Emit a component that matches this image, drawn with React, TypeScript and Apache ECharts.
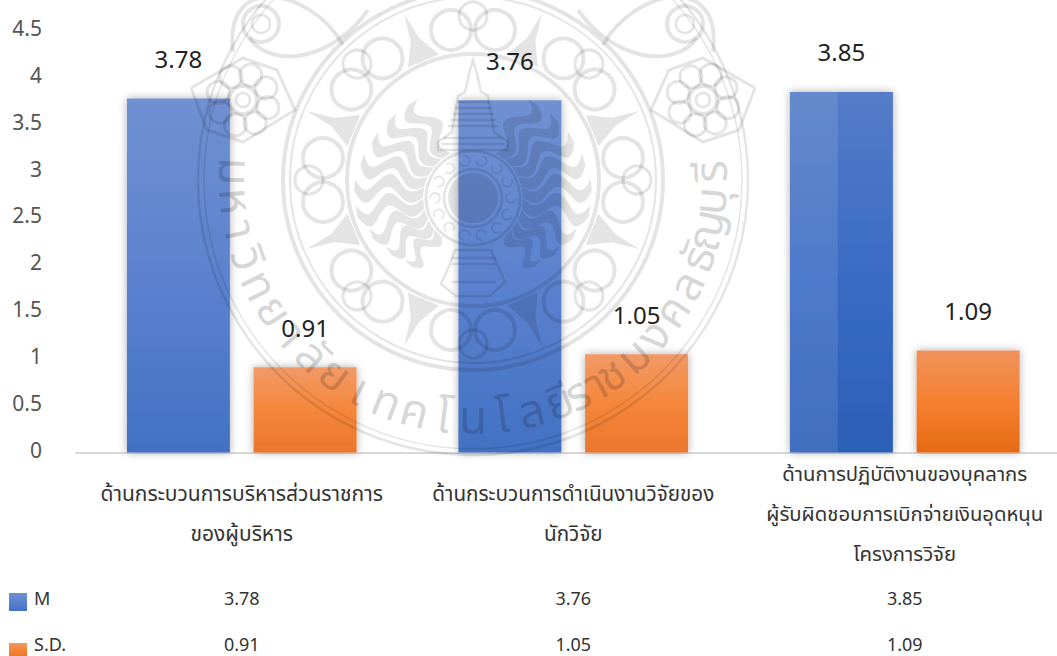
import React, { useEffect, useRef } from "react";
import * as echarts from "echarts";

const categories = [
  "ด้านกระบวนการบริหารส่วนราชการ\nของผู้บริหาร",
  "ด้านกระบวนการดำเนินงานวิจัยของ\nนักวิจัย",
  "ด้านการปฏิบัติงานของบุคลากร\nผู้รับผิดชอบการเบิกจ่ายเงินอุดหนุน\nโครงการวิจัย",
];
const seriesNames = ["M", "S.D."];
const meanValues = [3.78, 3.76, 3.85];
const sdValues = [0.91, 1.05, 1.09];
const sealLetters = [
  "ม", "ห", "า", "วิ", "ท", "ย", "า", "ลั", "ย", "เ", "ท", "ค", "โ", "น", "โ", "ล", "ยี",
  "รา", "ช", "ม", "ง", "ค", "ล", "ธั", "ญ", "บุ", "รี",
];

const UI_FONT = '"Noto Sans", "DejaVu Sans", sans-serif';
const THAI_FONT = '"Noto Sans", "Noto Sans Thai", "DejaVu Sans", sans-serif';

const linear = (stops: [number, string][]) =>
  new echarts.graphic.LinearGradient(0, 0, 0, 1, stops.map(([offset, color]) => ({ offset, color })));

const blueFill = () => linear([[0, "#7090d2"], [0.5, "#5c82cf"], [1, "#4271c3"]]);
const deepBlueFill = () => linear([[0, "#557cc8"], [0.5, "#3a6cc4"], [1, "#2c5fb6"]]);
const orangeFill = () => linear([[0, "#f19a68"], [0.5, "#f5863a"], [1, "#ea772c"]]);
const deepOrangeFill = () => linear([[0, "#f0925c"], [0.5, "#f48030"], [1, "#e66a14"]]);

const SHADE = "rgba(0,0,0,0.105)";
const Z = 40;

// Grey university seal laid over the whole plot
function buildSeal(): any[] {
  const cx = 473;
  const cy = 180;
  const out: any[] = [];
  const line = { fill: "none", stroke: SHADE };
  const ring = (x: number, y: number, r: number, w = 2.5) =>
    out.push({ type: "circle", z: Z, silent: true, shape: { cx: x, cy: y, r }, style: { ...line, lineWidth: w } });
  const pt = (r: number, a: number) => [cx + r * Math.cos(a), cy + r * Math.sin(a)];

  // Outer and middle bands
  ring(cx, cy, 275, 2.5);
  ring(cx, cy, 269, 1.5);
  ring(cx, cy, 190, 4);
  ring(cx, cy, 183, 2);
  ring(cx, cy, 126, 4);

  // Clusters of lobes between the sun disc and the band
  for (let i = 0; i < 8; i++) {
    const a = (i * Math.PI) / 4 - Math.PI / 2;
    const mx = cx + 150 * Math.cos(a);
    const my = cy + 150 * Math.sin(a);
    const px = -Math.sin(a);
    const py = Math.cos(a);
    ring(mx + px * 22, my + py * 22, 20, 4);
    ring(mx - px * 22, my - py * 22, 20, 4);
    ring(cx + 164 * Math.cos(a), cy + 164 * Math.sin(a), 14, 3);
    // Pointed fillers between neighbouring clusters
    const a2 = a + Math.PI / 8;
    out.push({
      type: "polygon", z: Z, silent: true,
      shape: { points: [pt(130, a2 - 0.13), pt(152, a2 - 0.03), pt(180, a2), pt(152, a2 + 0.03), pt(130, a2 + 0.13)] },
      style: { fill: SHADE },
    });
  }

  // Wavy sun rays around the medallion
  const hubY = 198;
  const rays = 28;
  for (let i = 0; i < rays; i++) {
    const a0 = ((i + 0.5) * 2 * Math.PI) / rays;
    const s = Math.sin(a0);
    if (s < -0.9 || s > 0.72) continue;
    const dir = Math.cos(a0) > 0 ? 1 : -1;
    const side: number[][] = [];
    const back: number[][] = [];
    const reach = s > 0 ? 122 - 42 * s : 120 + 8 * s;
    for (let k = 0; k <= 18; k++) {
      const t = k / 18;
      const r = 50 + (reach - 50) * t;
      const wave = 0.1 * Math.sin(t * Math.PI * 3) * dir;
      const half = 0.102 * (1 - t * 0.5);
      side.push([473 + r * Math.cos(a0 + wave - half), hubY + r * Math.sin(a0 + wave - half)]);
      back.unshift([473 + r * Math.cos(a0 + wave + half), hubY + r * Math.sin(a0 + wave + half)]);
    }
    out.push({
      type: "polygon", z: Z, silent: true,
      shape: { points: side.concat(back) },
      style: { fill: SHADE },
    });
  }

  // Medallion with its band of scrolls
  ring(473, hubY, 47, 3);
  ring(473, hubY, 29, 2.5);
  for (let i = 0; i < 14; i++) {
    const a = (i * 2 * Math.PI) / 14;
    out.push({
      type: "arc", z: Z, silent: true,
      shape: { cx: 473 + 38 * Math.cos(a), cy: hubY + 38 * Math.sin(a), r: 5, startAngle: a, endAngle: a + 4.6 },
      style: { ...line, lineWidth: 1.8 },
    });
  }
  out.push({
    type: "circle", z: Z, silent: true,
    shape: { cx: 473, cy: hubY, r: 25 },
    style: { fill: SHADE },
  });

  // Stupa above the medallion and its pedestal below
  const outline = (points: number[][]) =>
    out.push({ type: "polygon", z: Z, silent: true, shape: { points }, style: { ...line, lineWidth: 2.5 } });
  const slat = (x1: number, x2: number, y: number) =>
    out.push({ type: "line", z: Z, silent: true, shape: { x1, y1: y, x2, y2: y }, style: { stroke: SHADE, lineWidth: 2.5 } });
  outline([[473, 60], [469, 74], [465, 92], [458, 96], [452, 132], [438, 142], [438, 150], [508, 150], [508, 142], [494, 132], [488, 96], [481, 92], [477, 74]]);
  [102, 108, 114, 120, 126, 138, 144].forEach((y) => slat(473 - (y - 60) * 0.38, 473 + (y - 60) * 0.38, y));
  outline([[455, 250], [491, 250], [497, 264], [505, 282], [490, 296], [456, 296], [441, 284], [450, 264]]);
  [258, 264, 282].forEach((y) => slat(452, 496, y));

  // Corner flowers and the curling tails at the top
  [243, 703].forEach((fx, idx) => {
    const fy = 100;
    ring(fx, fy, 14, 4);
    ring(fx, fy, 7, 2.5);
    for (let i = 0; i < 8; i++) {
      const a = (i * Math.PI) / 4 + 0.3;
      ring(fx + 26 * Math.cos(a), fy + 26 * Math.sin(a), 11, 3);
    }
    const m = idx === 0 ? 1 : -1;
    const tip = fx + m * 52;
    out.push({
      type: "polyline", z: Z, silent: true,
      shape: { points: [[fx - m * 52, fy - 12], [fx - m * 36, fy + 30], [fx, fy + 42], [tip, fy + 10], [fx + m * 34, fy - 30], [fx, fy - 42], [fx - m * 52, fy - 12]] },
      style: { ...line, lineWidth: 3 },
    });
    out.push({
      type: "bezierCurve", z: Z, silent: true,
      shape: { x1: fx - m * 10, y1: fy - 48, cpx1: fx - m * 20, cpy1: -30, cpx2: fx + m * 70, cpy2: -10, x2: fx + m * 100, y2: fy - 55 },
      style: { ...line, lineWidth: 4 },
    });
    out.push({
      type: "bezierCurve", z: Z, silent: true,
      shape: { x1: fx + m * 6, y1: fy - 62, cpx1: fx + m * 30, cpy1: fy - 30, cpx2: fx + m * 90, cpy2: fy - 40, x2: fx + m * 125, y2: fy - 90 },
      style: { ...line, lineWidth: 4 },
    });
    ring(fx + m * 18, 24, 18, 4);
    ring(fx + m * 18, 24, 9, 2.5);
  });

  // University name running round the lower half
  sealLetters.forEach((ch, i) => {
    const deg = 182 - (i * 184) / (sealLetters.length - 1);
    const th = (deg * Math.PI) / 180;
    out.push({
      type: "text", z: Z, silent: true,
      x: cx + 236 * Math.cos(th),
      y: cy + 236 * Math.sin(th),
      rotation: -(th - Math.PI / 2),
      style: {
        text: ch, fill: "rgba(0,0,0,0.17)", font: `46px ${THAI_FONT}`,
        align: "center", verticalAlign: "middle",
      },
    });
  });
  return out;
}

const tableAxis = (values: number[], offset: number) => ({
  type: "category" as const,
  position: "bottom" as const,
  offset,
  data: values.map((v) => v.toFixed(2)),
  axisLine: { show: false },
  axisTick: { show: false },
  splitLine: { show: false },
  axisLabel: {
    margin: 0,
    fontSize: 18,
    lineHeight: 18,
    color: "#333",
    fontFamily: UI_FONT,
    verticalAlign: "middle" as const,
    interval: 0,
  },
});

// One legend per table row; each shows only its colour mark, the name sits beside it as text
const legendEntry = (name: string, top: number, markHeight: number) => ({
  data: [name],
  left: 9,
  top,
  icon: "rect",
  itemWidth: 18,
  itemHeight: markHeight,
  selectedMode: false,
  padding: 0,
  formatter: () => "",
});

const rowName = (text: string, y: number) => ({
  type: "text",
  x: 34,
  y,
  silent: true,
  style: { text, fill: "#333", font: `18px ${UI_FONT}`, align: "left", verticalAlign: "middle" },
});

// Each category keeps its own text size, wrapped line by line
const categoryStyle = (size: number) => ({ fontSize: size, lineHeight: 40, color: "#333", fontFamily: THAI_FONT });

export default function App() {
  const ref = useRef<HTMLDivElement>(null);

  useEffect(() => {
    const chart = echarts.init(ref.current!, undefined, { renderer: "svg", width: 1057, height: 656 });
    const valueLabel = {
      show: true,
      position: "top" as const,
      distance: 28,
      fontSize: 24,
      color: "#222",
      fontFamily: UI_FONT,
      formatter: (p: any) => Number(p.value).toFixed(2),
    };
    const barShadow = { shadowBlur: 9, shadowColor: "rgba(0,0,0,0.32)" };
    chart.setOption({
      animation: false,
      backgroundColor: "#ffffff",
      grid: { left: 76, top: 31, width: 994.5, height: 421.5, outerBoundsMode: "none" },
      legend: [legendEntry(seriesNames[0], 593, 18), legendEntry(seriesNames[1], 643, 13)],
      xAxis: [
        {
          type: "category",
          data: categories,
          axisLine: { lineStyle: { color: "#d9d9d9", width: 2 } },
          axisTick: { show: false },
          axisLabel: {
            interval: 0,
            margin: 60,
            lineHeight: 40,
            fontSize: 20,
            color: "#333",
            fontFamily: THAI_FONT,
            verticalAlign: "middle",
            formatter: (value: string, index: number) => {
              const key = ["c0", "c1", "c2"][index];
              return value.split("\n").map((part) => `{${key}|${part}}`).join("\n");
            },
            rich: { c0: categoryStyle(21), c1: categoryStyle(20.7), c2: categoryStyle(20.3) },
          },
        },
        tableAxis(meanValues, 145),
        tableAxis(sdValues, 191),
      ],
      yAxis: {
        type: "value",
        min: 0,
        max: 4.5,
        interval: 0.5,
        axisLine: { show: false },
        axisTick: { show: false },
        splitLine: { show: false },
        axisLabel: {
          margin: 34,
          fontSize: 21,
          lineHeight: 6,
          verticalAlign: "bottom",
          color: "#555",
          fontFamily: UI_FONT,
        },
      },
      series: [
        {
          name: seriesNames[0],
          type: "bar",
          barWidth: 103,
          barGap: "23%",
          itemStyle: { color: blueFill(), ...barShadow },
          label: valueLabel,
          data: meanValues.map((value, i) =>
            i === 2 ? { value, itemStyle: { color: deepBlueFill(), ...barShadow } } : value
          ),
        },
        {
          name: seriesNames[1],
          type: "bar",
          barWidth: 103,
          itemStyle: { color: orangeFill(), ...barShadow },
          label: valueLabel,
          data: sdValues.map((value, i) =>
            i === 2 ? { value, itemStyle: { color: deepOrangeFill(), ...barShadow } } : value
          ),
        },
      ],
    });

    // Lighter left part of the third mean bar, placed from the axes
    const centre = chart.convertToPixel({ xAxisIndex: 0 }, 2) as number;
    const top = chart.convertToPixel({ yAxisIndex: 0 }, meanValues[2]) as number;
    const base = chart.convertToPixel({ yAxisIndex: 0 }, 0) as number;
    const sheen = {
      type: "rect",
      z: 30,
      silent: true,
      shape: { x: centre - 115, y: top, width: 48, height: base - top },
      style: { fill: "rgba(255,255,255,0.1)" },
    };
    chart.setOption({
      graphic: {
        elements: [sheen, rowName(seriesNames[0], 598), rowName(seriesNames[1], 644), ...buildSeal()],
      },
    });

    return () => chart.dispose();
  }, []);

  return (
    <div
      ref={ref}
      style={{ position: "absolute", left: 0, top: 0, width: 1057, height: 656, overflow: "hidden", background: "#fff" }}
    />
  );
}
